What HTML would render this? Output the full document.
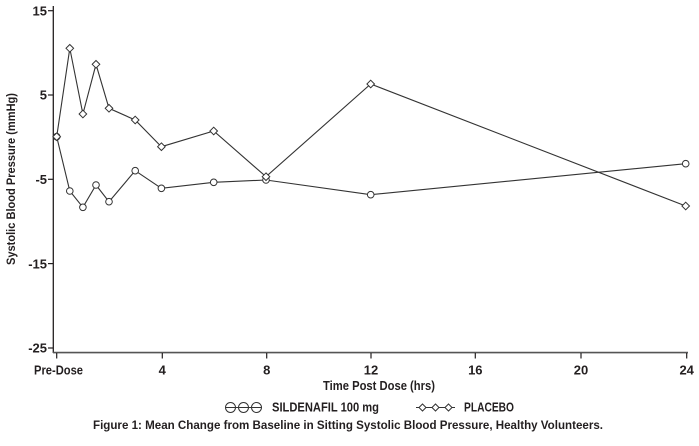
<!DOCTYPE html>
<html>
<head>
<meta charset="utf-8">
<style>
html,body{margin:0;padding:0;background:#fff;}
svg{display:block;}
text{font-family:"Liberation Sans Narrow","Liberation Sans",sans-serif;font-weight:bold;fill:#231f20;}
</style>
</head>
<body>
<svg width="699" height="446" viewBox="0 0 699 446" xmlns="http://www.w3.org/2000/svg">
  <!-- axes -->
  <line x1="53.3" y1="6" x2="53.3" y2="353" stroke="#231f20" stroke-width="1.3"/>
  <line x1="53" y1="352.6" x2="688" y2="352.6" stroke="#555" stroke-width="1.6"/>
  <!-- y ticks -->
  <g stroke="#231f20" stroke-width="1.2">
    <line x1="48" y1="10.7" x2="53" y2="10.7"/>
    <line x1="48" y1="95" x2="53" y2="95"/>
    <line x1="48" y1="179.3" x2="53" y2="179.3"/>
    <line x1="48" y1="263.6" x2="53" y2="263.6"/>
    <line x1="48" y1="348" x2="53" y2="348"/>
  </g>
  <!-- x ticks -->
  <g stroke="#231f20" stroke-width="1.2">
    <line x1="56.7" y1="353" x2="56.7" y2="358.5"/>
    <line x1="162.3" y1="353" x2="162.3" y2="358.5"/>
    <line x1="266.7" y1="353" x2="266.7" y2="358.5"/>
    <line x1="371" y1="353" x2="371" y2="358.5"/>
    <line x1="475.3" y1="353" x2="475.3" y2="358.5"/>
    <line x1="581" y1="353" x2="581" y2="358.5"/>
    <line x1="686.7" y1="353" x2="686.7" y2="358.5"/>
  </g>
  <!-- y tick labels -->
  <g font-size="13" text-anchor="end">
    <text x="47" y="15.5">15</text>
    <text x="47" y="99.7">5</text>
    <text x="47" y="184">-5</text>
    <text x="47" y="268.3">-15</text>
    <text x="47" y="352.7">-25</text>
  </g>
  <!-- x tick labels -->
  <g font-size="13" text-anchor="middle">
    <text x="58.5" y="374.5" textLength="49" lengthAdjust="spacingAndGlyphs">Pre-Dose</text>
    <text x="162.3" y="374.5">4</text>
    <text x="266.7" y="374.5">8</text>
    <text x="371" y="374.5">12</text>
    <text x="475.3" y="374.5">16</text>
    <text x="581" y="374.5">20</text>
    <text x="686.7" y="374.5">24</text>
  </g>
  <!-- axis titles -->
  <text x="323" y="390" font-size="12.5" textLength="112" lengthAdjust="spacingAndGlyphs">Time Post Dose (hrs)</text>
  <text transform="translate(15,265) rotate(-90)" x="0" y="0" font-size="12" textLength="172" lengthAdjust="spacingAndGlyphs">Systolic Blood Pressure (mmHg)</text>

  <!-- series lines -->
  <polyline fill="none" stroke="#333" stroke-width="1.1"
    points="56.7,136.7 69.8,48.3 82.9,114 96,64.3 109,108.3 135.2,120 161.4,146.7 213.7,131 266,176.7 370.7,84 685.7,206"/>
  <polyline fill="none" stroke="#333" stroke-width="1.1"
    points="56.7,136.7 69.8,191 82.9,207.3 96,185 109,201.7 135.2,170.7 161.4,188.3 213.7,182.3 266,180 370.7,194.7 685.7,163.7"/>

  <!-- sildenafil markers -->
  <g fill="#fff" stroke="#333" stroke-width="1">
    <circle cx="56.7" cy="136.7" r="3.3"/>
    <circle cx="69.8" cy="191" r="3.3"/>
    <circle cx="82.9" cy="207.3" r="3.3"/>
    <circle cx="96" cy="185" r="3.3"/>
    <circle cx="109" cy="201.7" r="3.3"/>
    <circle cx="135.2" cy="170.7" r="3.3"/>
    <circle cx="161.4" cy="188.3" r="3.3"/>
    <circle cx="213.7" cy="182.3" r="3.3"/>
    <circle cx="266" cy="180" r="3.3"/>
    <circle cx="370.7" cy="194.7" r="3.3"/>
    <circle cx="685.7" cy="163.7" r="3.3"/>
  </g>
  <!-- placebo markers -->
  <g fill="#fff" stroke="#333" stroke-width="1">
    <path d="M56.7,132.9 L60.5,136.7 L56.7,140.5 L52.9,136.7 Z"/>
    <path d="M69.8,44.5 L73.6,48.3 L69.8,52.1 L66,48.3 Z"/>
    <path d="M82.9,110.2 L86.7,114 L82.9,117.8 L79.1,114 Z"/>
    <path d="M96,60.5 L99.8,64.3 L96,68.1 L92.2,64.3 Z"/>
    <path d="M109,104.5 L112.8,108.3 L109,112.1 L105.2,108.3 Z"/>
    <path d="M135.2,116.2 L139,120 L135.2,123.8 L131.4,120 Z"/>
    <path d="M161.4,142.9 L165.2,146.7 L161.4,150.5 L157.6,146.7 Z"/>
    <path d="M213.7,127.2 L217.5,131 L213.7,134.8 L209.9,131 Z"/>
    <path d="M266,172.9 L269.8,176.7 L266,180.5 L262.2,176.7 Z"/>
    <path d="M370.7,80.2 L374.5,84 L370.7,87.8 L366.9,84 Z"/>
    <path d="M685.7,202.2 L689.5,206 L685.7,209.8 L681.9,206 Z"/>
  </g>

  <!-- legend -->
  <line x1="225" y1="407.5" x2="262" y2="407.5" stroke="#333" stroke-width="1"/>
  <g fill="none" stroke="#333" stroke-width="1">
    <circle cx="230.5" cy="407.5" r="5"/>
    <circle cx="243.5" cy="407.5" r="5"/>
    <circle cx="256.5" cy="407.5" r="5"/>
  </g>
  <text x="272" y="411.5" font-size="12.5" textLength="107" lengthAdjust="spacingAndGlyphs">SILDENAFIL 100 mg</text>
  <line x1="416" y1="407.5" x2="455" y2="407.5" stroke="#333" stroke-width="1"/>
  <g fill="#fff" stroke="#333" stroke-width="1">
    <path d="M422.5,404 L426,407.5 L422.5,411 L419,407.5 Z"/>
    <path d="M435.5,404 L439,407.5 L435.5,411 L432,407.5 Z"/>
    <path d="M448.5,404 L452,407.5 L448.5,411 L445,407.5 Z"/>
  </g>
  <text x="464" y="411.5" font-size="12.5" textLength="50" lengthAdjust="spacingAndGlyphs">PLACEBO</text>

  <!-- caption -->
  <text x="93" y="429" font-size="12" textLength="510" lengthAdjust="spacingAndGlyphs">Figure 1: Mean Change from Baseline in Sitting Systolic Blood Pressure, Healthy Volunteers.</text>
</svg>
</body>
</html>
